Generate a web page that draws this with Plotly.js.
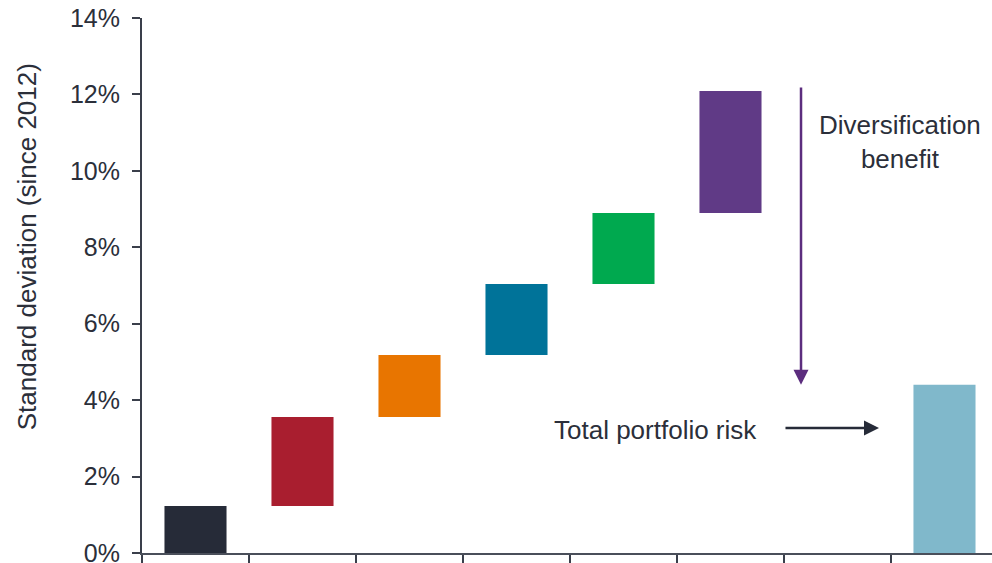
<!DOCTYPE html>
<html>
<head>
<meta charset="utf-8">
<script src="https://cdn.plot.ly/plotly-3.0.1.min.js"></script>
<style>html,body{margin:0;padding:0;background:#fff;}#chart{width:992px;height:563px;}</style>
</head>
<body>
<div id="chart"></div>
<script>
// Data (standard deviation, %)
var positions = [0, 1, 2, 3, 4, 5, 6, 7];
var lows  = [0.00, 1.23, 3.56, 5.18, 7.04, 8.90, null, 0.00];
var highs = [1.23, 3.56, 5.18, 7.04, 8.90, 12.09, null, 4.40];
var colors = ['#262b38', '#a91e2f', '#e87500', '#007399', '#00a94f', '#603a86', '#ffffff', '#80b8cb'];
var yTicks = [0, 2, 4, 6, 8, 10, 12, 14];
var xTickVals = [-0.5, 0.5, 1.5, 2.5, 3.5, 4.5, 5.5, 6.5];

var heights = highs.map(function(h, i){ return (h === null || lows[i] === null) ? null : h - lows[i]; });

var textColor = '#2b2f3a';
var font = {family: 'Liberation Sans, Arial, sans-serif', size: 26, color: textColor};

var trace = {
  type: 'bar',
  x: positions,
  y: heights,
  base: lows,
  width: 0.58,
  marker: {color: colors, line: {width: 0}},
  hoverinfo: 'skip'
};

var layout = {
  width: 992, height: 563,
  margin: {l: 142, r: 0, t: 18, b: 10, pad: 0},
  paper_bgcolor: '#ffffff', plot_bgcolor: '#ffffff',
  showlegend: false,
  font: font,
  xaxis: {
    range: [-0.5, 7.444],
    tickmode: 'array', tickvals: xTickVals, showticklabels: false,
    ticks: 'outside', ticklen: 9, tickwidth: 2, tickcolor: '#3a3f4b',
    showline: true, linecolor: '#4a4f5a', linewidth: 2,
    showgrid: false, zeroline: false, fixedrange: true
  },
  yaxis: {
    range: [0, 14],
    tickmode: 'array', tickvals: yTicks, ticktext: yTicks.map(function(v){ return v + '%'; }),
    ticks: 'outside', ticklen: 8, tickwidth: 2, tickcolor: '#3a3f4b',
    ticklabelstandoff: 7,
    ticklabeloverflow: 'allow',
    tickfont: {family: 'Liberation Sans, Arial, sans-serif', size: 25, color: textColor},
    showline: true, linecolor: '#3a3f4b', linewidth: 2,
    showgrid: false, zeroline: false, fixedrange: true
  },
  annotations: [
    {
      text: 'Standard deviation (since 2012)', textangle: -90,
      xref: 'paper', yref: 'paper', x: -0.135, y: 0.572,
      xanchor: 'center', yanchor: 'middle', showarrow: false,
      font: font
    },
    {
      text: 'Diversification<br>benefit',
      xref: 'x', yref: 'y', x: 6.584, y: 10.75,
      xanchor: 'center', yanchor: 'middle', showarrow: false,
      font: font
    },
    {
      text: 'Total portfolio risk',
      xref: 'x', yref: 'y', x: 5.27, y: 3.22,
      xanchor: 'right', yanchor: 'middle', showarrow: false,
      font: font
    },
    {
      text: '', xref: 'x', yref: 'y', x: 5.659, y: 4.40,
      axref: 'x', ayref: 'y', ax: 5.659, ay: 12.22,
      showarrow: true, arrowhead: 2, arrowsize: 1.2, arrowwidth: 2.5,
      arrowcolor: '#5c2d7e', standoff: 0
    },
    {
      text: '', xref: 'x', yref: 'y', x: 6.388, y: 3.27,
      axref: 'x', ayref: 'y', ax: 5.5, ay: 3.27,
      showarrow: true, arrowhead: 2, arrowsize: 1.2, arrowwidth: 2.5,
      arrowcolor: '#262b38', standoff: 0
    }
  ]
};

Plotly.newPlot('chart', [trace], layout, {displayModeBar: false, staticPlot: true});
</script>
</body>
</html>
